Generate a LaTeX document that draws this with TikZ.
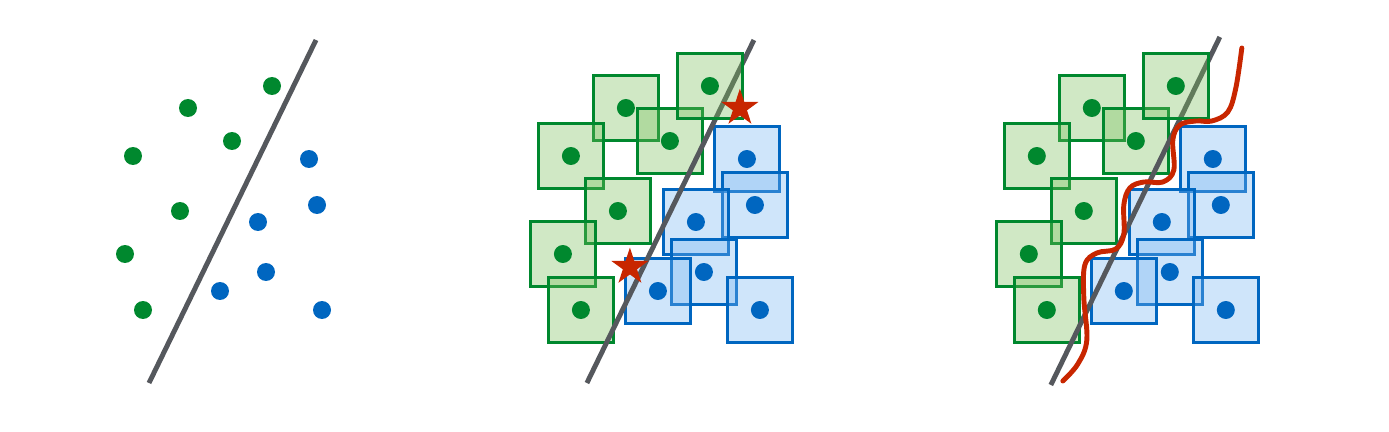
\documentclass[tikz,border=0pt]{standalone}
\usepackage{tikz}
\usetikzlibrary{shapes.geometric}
\definecolor{ptgreen}{RGB}{0,136,46}
\definecolor{ptblue}{RGB}{0,102,192}
\definecolor{boxgreen}{RGB}{120,190,90}
\definecolor{boxblue}{RGB}{118,181,241}
\definecolor{linegray}{RGB}{85,88,93}
\definecolor{errred}{RGB}{200,38,0}
\newcommand{\greenpts}{272/86,188/108,232/141,133/156,180/211,125/254,143/310}
\newcommand{\bluepts}{309/159,317/205,258/222,266/272,220/291,322/310}

\begin{document}
\begin{tikzpicture}[x=0.02cm,y=-0.02cm,
  gdot/.style={circle,fill=ptgreen,inner sep=0pt,minimum size=0.36cm},
  bdot/.style={circle,fill=ptblue,inner sep=0pt,minimum size=0.36cm},
  gbox/.style={draw=ptgreen,fill=boxgreen,fill opacity=0.35,line width=1.5pt,minimum size=1.3cm,inner sep=0pt},
  bbox/.style={draw=ptblue,fill=boxblue,fill opacity=0.35,line width=1.5pt,minimum size=1.3cm,inner sep=0pt},
  sepline/.style={draw=linegray,line width=2.8pt},
  errstar/.style={star,star points=5,star point ratio=2.618,fill=errred,inner sep=0pt,minimum size=0.78cm},
  wiggle/.style={draw=errred,line width=2.8pt,line cap=round}]
\useasboundingbox (0,0) rectangle (1389,432);

% plain points
\draw[sepline] (149,383) -- (316,40);
\foreach \x/\y [count=\i] in \greenpts {\node[gdot] (a-g\i) at (\x,\y) {};}
\foreach \x/\y [count=\i] in \bluepts {\node[bdot] (a-b\i) at (\x,\y) {};}

% points with boxes and two flagged ones
\begin{scope}[xshift=8.76cm]
\foreach \x/\y [count=\i] in \greenpts {\ifnum\i>1 \node[gbox] (b-gs\i) at (\x,\y) {};\fi}
\foreach \x/\y [count=\i] in \bluepts {\node[bbox] (b-bs\i) at (\x,\y) {};}
\draw[sepline] (149,383) -- (316,40);
\node[gbox] (b-gs1) at (272,86) {};
\foreach \x/\y [count=\i] in \greenpts {\node[gdot] (b-g\i) at (\x,\y) {};}
\foreach \x/\y [count=\i] in \bluepts {\node[bdot] (b-b\i) at (\x,\y) {};}
\node[errstar] (b-s1) at (302,108) {};
\node[errstar] (b-s2) at (192,267) {};
\end{scope}

% boxes with a fitted wiggly boundary
\begin{scope}[xshift=18.08cm]
\foreach \x/\y [count=\i] in \greenpts {\ifnum\i>1 \node[gbox] (c-gs\i) at (\x,\y) {};\fi}
\foreach \x/\y [count=\i] in \bluepts {\node[bbox] (c-bs\i) at (\x,\y) {};}
\draw[sepline] (147,385) -- (316,37);
\node[gbox] (c-gs1) at (272,86) {};
\foreach \x/\y [count=\i] in \greenpts {\node[gdot] (c-g\i) at (\x,\y) {};}
\foreach \x/\y [count=\i] in \bluepts {\node[bdot] (c-b\i) at (\x,\y) {};}
\draw[wiggle] plot[smooth,tension=0.6] coordinates {(159,381) (174,364) (183,340) (180,298) (181,265) (193,253) (212,249) (220,234) (220,205) (226,188) (240,182) (259,182) (270,170) (269,140) (276,125) (292,121) (308,121) (324,112) (332,88) (338,48)};
\end{scope}
\end{tikzpicture}
\end{document}
